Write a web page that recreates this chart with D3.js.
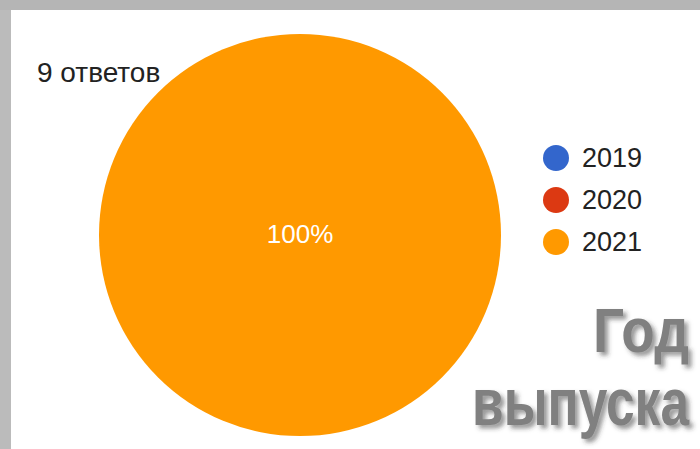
<!DOCTYPE html>
<html>
<head>
<meta charset="utf-8">
<script src="https://cdn.jsdelivr.net/npm/d3@7"></script>
<style>
  html, body { margin: 0; padding: 0; background: #fff; }
  svg { display: block; }
</style>
</head>
<body>
<svg id="chart" width="700" height="449"></svg>
<script>
const years = ["2019", "2020", "2021"];
const answers = [0, 0, 9];
const colors = ["#3366cc", "#dc3912", "#ff9900"];
const totalLabel = "9 ответов";
const titleLines = ["Год", "выпуска"];

const svg = d3.select("#chart");
const width = +svg.attr("width");
const height = +svg.attr("height");

// grey frame of the slide
svg.append("rect").attr("width", width).attr("height", height).attr("fill", "#b5b5b5");
svg.append("rect").attr("x", 0).attr("y", 10).attr("width", 11).attr("height", height - 10).attr("fill", "#bbbbbb");
svg.append("rect").attr("x", 11).attr("y", 10).attr("width", width - 11).attr("height", height - 10).attr("fill", "#ffffff");

const defs = svg.append("defs");
const shadow = defs.append("filter").attr("id", "shadow")
  .attr("x", "-10%").attr("y", "-10%").attr("width", "130%").attr("height", "140%");
shadow.append("feDropShadow")
  .attr("dx", 3.5).attr("dy", 3.5).attr("stdDeviation", 2)
  .attr("flood-color", "#333").attr("flood-opacity", 0.5);

const color = d3.scaleOrdinal().domain(years).range(colors);

const data = years.map((y, i) => ({ year: y, value: answers[i] }));
const total = d3.sum(data, (d) => d.value);

const cx = 300, cy = 235, radius = 201;
const pie = d3.pie().sort(null).value((d) => d.value);
const arc = d3.arc().innerRadius(0).outerRadius(radius);
const slices = pie(data).filter((d) => d.data.value > 0);

const pieG = svg.append("g").attr("transform", `translate(${cx},${cy})`);
pieG.selectAll("path")
  .data(slices)
  .join("path")
  .attr("d", arc)
  .attr("fill", (d) => color(d.data.year));

const labelArc = d3.arc().innerRadius(radius * 0.6).outerRadius(radius * 0.6);
pieG.selectAll("text.slice")
  .data(slices)
  .join("text")
  .attr("class", "slice")
  .attr("transform", (d) => {
    const c = d.data.value === total ? [0, 0] : labelArc.centroid(d);
    return `translate(${c[0]},${c[1] + 8})`;
  })
  .attr("text-anchor", "middle")
  .attr("fill", "#ffffff")
  .style("font-family", "Arial, 'Liberation Sans', sans-serif")
  .style("font-size", "26px")
  .text((d) => d3.format(".0%")(d.data.value / total));

svg.append("text")
  .attr("x", 37)
  .attr("y", 82)
  .attr("fill", "#222")
  .style("font-family", "Arial, 'Liberation Sans', sans-serif")
  .style("font-size", "28px")
  .text(totalLabel);

// legend
const legendY = d3.scalePoint().domain(years).range([158, 242]);
const items = svg.append("g").selectAll("g").data(years).join("g")
  .attr("transform", (d) => `translate(556,${legendY(d)})`);
items.append("circle").attr("r", 13).attr("fill", (d) => color(d));
items.append("text")
  .attr("x", 26)
  .attr("y", 9)
  .attr("fill", "#222")
  .style("font-family", "Arial, 'Liberation Sans', sans-serif")
  .style("font-size", "27px")
  .text((d) => d);

// slide title
const titleFont = "Arial, 'Liberation Sans', sans-serif";
svg.append("text")
  .attr("x", 593).attr("y", 352)
  .attr("fill", "#808080")
  .attr("filter", "url(#shadow)")
  .attr("textLength", 96)
  .attr("lengthAdjust", "spacingAndGlyphs")
  .style("font-family", titleFont)
  .style("font-weight", "bold")
  .style("font-size", "63px")
  .text(titleLines[0]);

svg.append("text")
  .attr("x", 472).attr("y", 425)
  .attr("fill", "#808080")
  .attr("filter", "url(#shadow)")
  .attr("textLength", 217)
  .attr("lengthAdjust", "spacingAndGlyphs")
  .style("font-family", titleFont)
  .style("font-weight", "bold")
  .style("font-size", "66px")
  .text(titleLines[1]);
</script>
</body>
</html>
